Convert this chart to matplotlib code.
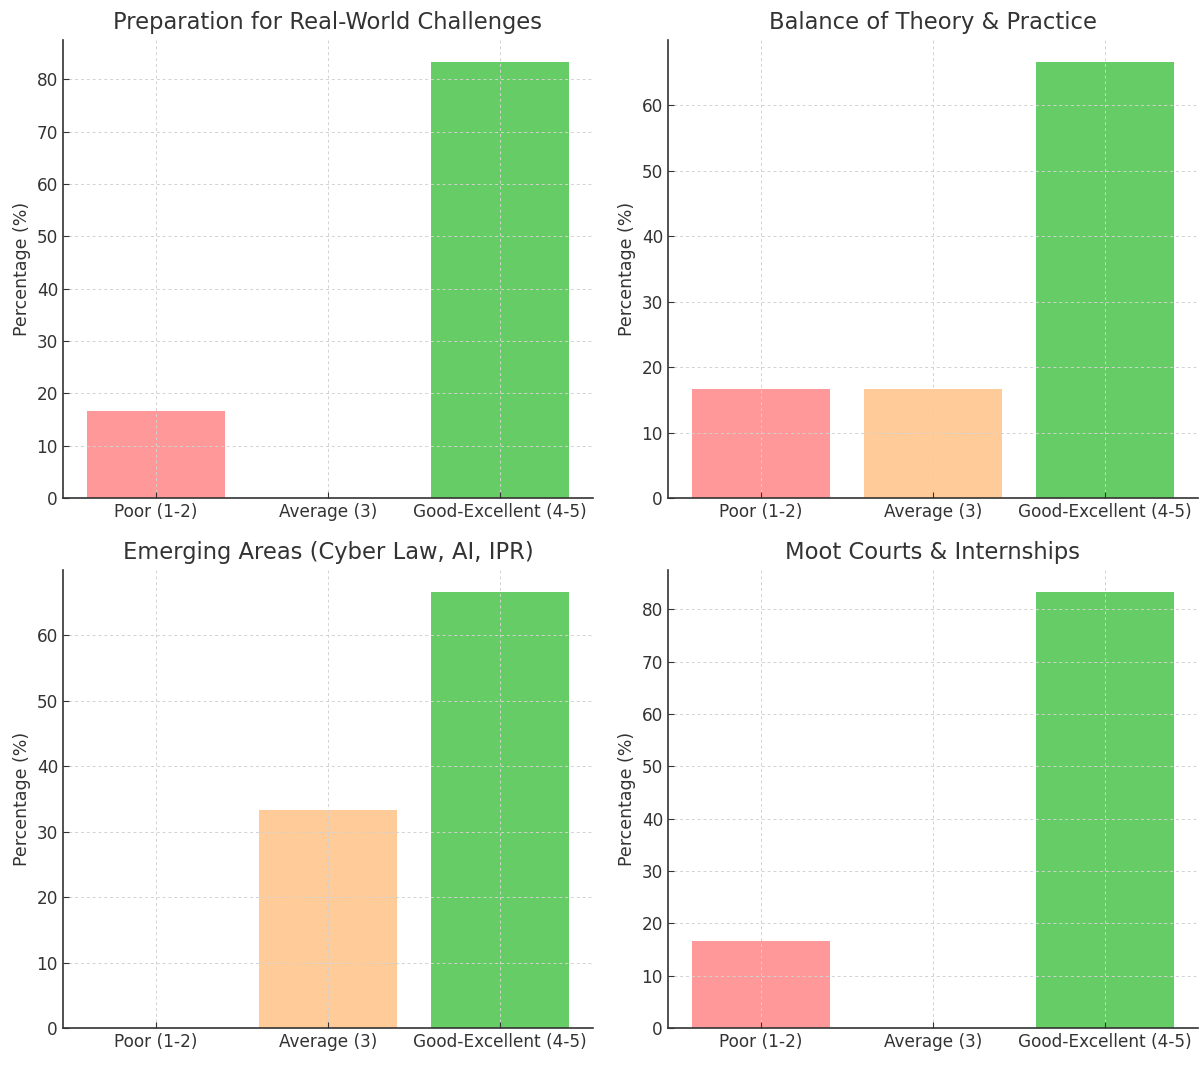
import matplotlib
matplotlib.use('Agg')
import matplotlib.pyplot as plt

categories = ['Poor (1-2)', 'Average (3)', 'Good-Excellent (4-5)']
colors = ['#ff9999', '#ffcc99', '#66cc66']

titles = [
    'Preparation for Real-World Challenges',
    'Balance of Theory & Practice',
    'Emerging Areas (Cyber Law, AI, IPR)',
    'Moot Courts & Internships',
]
prep_real_world = [16.666, 0, 83.333]
theory_practice = [16.666, 16.666, 66.666]
emerging_areas = [0, 33.333, 66.666]
moot_internships = [16.666, 0, 83.333]
all_values = [prep_real_world, theory_practice, emerging_areas, moot_internships]

plt.rcParams['font.family'] = ['DejaVu Sans']
plt.rcParams['text.color'] = '#333333'
plt.rcParams['axes.labelcolor'] = '#333333'
plt.rcParams['xtick.color'] = '#333333'
plt.rcParams['ytick.color'] = '#333333'

fig, axes = plt.subplots(2, 2, figsize=(12.04, 10.68), dpi=100)
fig.subplots_adjust(left=0.0523, right=0.995, top=0.9625, bottom=0.0375,
                    wspace=0.1415, hspace=0.157)

for ax, title, values in zip(axes.flat, titles, all_values):
    ax.bar(categories, values, color=colors)
    ax.set_title(title, fontsize=16.3, pad=8)
    ax.set_ylabel('Percentage (%)', fontsize=12.5)
    ax.tick_params(direction='in', labelsize=12.2, length=4, color='#333333')
    ax.grid(True, linestyle=(0, (3, 3)), color='#d2d2d2', linewidth=0.7)
    for side in ['top', 'right']:
        ax.spines[side].set_visible(False)
    for side in ['left', 'bottom']:
        ax.spines[side].set_color('#333333')
        ax.spines[side].set_linewidth(1.2)

plt.savefig('out.png', dpi=100)
plt.close()
